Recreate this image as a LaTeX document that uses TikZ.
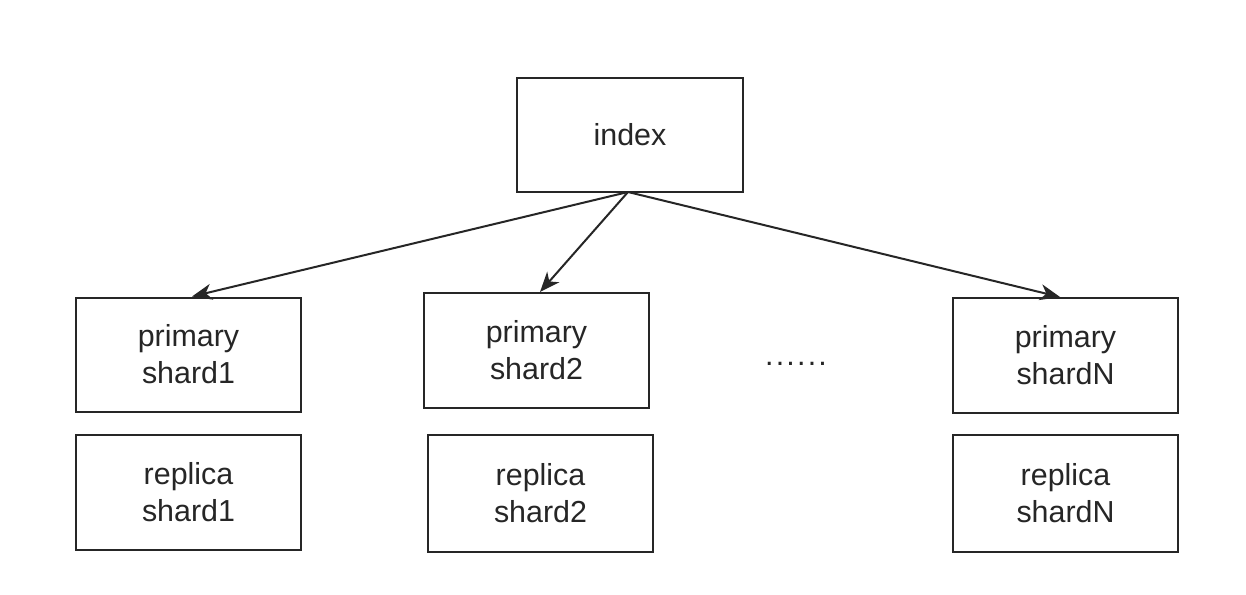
\documentclass[tikz,border=0pt]{standalone}
\usepackage{fontspec}
\setmainfont{Liberation Sans}
\usetikzlibrary{arrows.meta,calc}
\begin{document}
\begin{tikzpicture}[x=0.5pt,y=-0.5pt,
  box/.style={draw=black!85,line width=1pt,rectangle,minimum width=112.5pt,minimum height=57pt,inner sep=0pt,align=center,text=black!85,font=\fontsize{15.2}{18.4}\selectfont},
  conn/.style={draw=black!85,line width=1pt,-{Stealth[length=10pt,width=8pt,inset=3pt]}}]
\useasboundingbox[fill=white] (0,0) rectangle (1246,594);
\node[box,minimum width=113pt] (idx) at (630,135) {index};
\node[box] (p1) at (188.5,354.5) {primary\\shard1};
\node[box,minimum height=57.5pt] (r1) at (188.5,492.5) {replica\\shard1};
\node[box,minimum height=57.5pt] (p2) at (536.5,350.5) {primary\\shard2};
\node[box,minimum height=58.5pt] (r2) at (540.5,493.5) {replica\\shard2};
\node[box,minimum height=57.5pt] (pN) at (1065.5,355.5) {primary\\shardN};
\node[box,minimum height=58.5pt] (rN) at (1065.5,493.5) {replica\\shardN};
\node[text=black!85,font=\fontsize{15.2}{18.4}\selectfont,inner sep=0pt] (dots) at (796,364) {.\kern1.1pt.\kern1.1pt.\kern1.1pt.\kern1.1pt.\kern1.1pt.};
\coordinate (src) at (628,192);
\draw[conn] (src) -- ($(p1.north)+(3.5,0)$);
\draw[conn] (src) -- ($(p2.north)+(3.5,0)$);
\draw[conn] (src) -- ($(pN.north)+(-5.5,0)$);
\end{tikzpicture}
\end{document}
